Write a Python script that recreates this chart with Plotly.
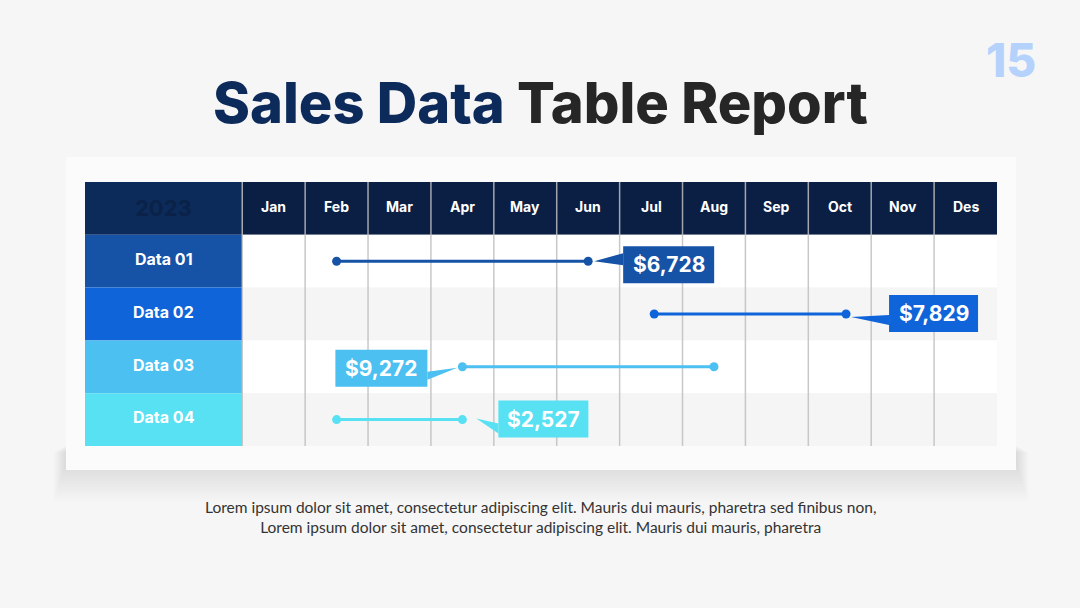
import plotly.graph_objects as go

# ---------------- data ----------------
months = ["Jan", "Feb", "Mar", "Apr", "May", "Jun", "Jul", "Aug", "Sep", "Oct", "Nov", "Des"]
series = ["Data 01", "Data 02", "Data 03", "Data 04"]
start_pos = [1.0, 6.05, 3.0, 1.0]   # month index (Jan = 0)
end_pos = [5.0, 9.1, 7.0, 3.0]
values = [6728, 7829, 9272, 2527]
year_label = "2023"

# ---------------- style ----------------
W, H = 1080, 608
X0PX, X1PX = 85, 997      # table pixel extent
Y0PX, Y1PX = 182, 446
XMIN, XMAX = -3.0, 11.5
YMIN, YMAX = -0.5, 4.5
PXX = (X1PX - X0PX) / (XMAX - XMIN)
PXY = (Y1PX - Y0PX) / (YMAX - YMIN)

colors = ["#1652a6", "#0f64d9", "#4cc0f0", "#58e1f2"]
header_col = "#0b1f45"
year_col = "#0c2a5a"
FONT = "Inter"

# callout geometry in px relative to anchor point:
# (anchor, box x0, x1, y0, y1, tip dx, tip dy, base dx, base dy0, base dy1)
callouts = [
    ("end", 35, 126, -15, 22, 6, 0, 35, -8, 4),
    ("end", 43, 132, -19, 18, 5, 3, 43, 1, 11),
    ("start", -127, -35, -17, 20, -5, 1, -35, 5, 13),
    ("end", 36, 126, -19, 18, 14, -1, 36, 4, 14),
]


def px2x(dx):
    return dx / PXX


def px2y(dy):
    return dy / PXY


fig = go.Figure()
shapes = []
annotations = []

# soft shadow under the card
n_layers = 14
for k in range(n_layers):
    grow = 2 + k * 2.6
    shapes.append(dict(type="rect", xref="paper", yref="paper",
                       x0=(66 - grow * 0.35) / W, x1=(1016 + grow * 0.35) / W,
                       y0=1 - (462 + grow * 1.1) / H, y1=1 - (445 + grow * 0.2) / H,
                       fillcolor="rgba(0,0,0,0.0085)", line=dict(width=0), layer="below"))
shapes.append(dict(type="rect", xref="paper", yref="paper",
                   x0=66 / W, x1=1016 / W, y0=1 - 470 / H, y1=1 - 157 / H,
                   fillcolor="#fbfbfb", line=dict(width=0), layer="below"))

# header
shapes.append(dict(type="rect", xref="x", yref="y", x0=XMIN, x1=-0.5, y0=-0.5, y1=0.5,
                   fillcolor=year_col, line=dict(width=0), layer="below"))
shapes.append(dict(type="rect", xref="x", yref="y", x0=-0.5, x1=XMAX, y0=-0.5, y1=0.5,
                   fillcolor=header_col, line=dict(width=0), layer="below"))
annotations.append(dict(x=-1.75, y=0, xref="x", yref="y", text=f"<b>{year_label}</b>",
                        showarrow=False, font=dict(family=FONT, size=22, color="#0a2248")))
for i, m in enumerate(months):
    annotations.append(dict(x=i, y=-0.03, xref="x", yref="y", text=f"<b>{m}</b>", showarrow=False,
                            font=dict(family=FONT, size=14, color="white")))

# rows
for r, name in enumerate(series):
    yr = r + 1
    shapes.append(dict(type="rect", xref="x", yref="y", x0=XMIN, x1=-0.5, y0=yr - 0.5, y1=yr + 0.5,
                       fillcolor=colors[r], line=dict(width=0), layer="below"))
    shapes.append(dict(type="rect", xref="x", yref="y", x0=-0.5, x1=XMAX, y0=yr - 0.5, y1=yr + 0.5,
                       fillcolor="#ffffff" if r % 2 == 0 else "#f5f5f5", line=dict(width=0), layer="below"))
    annotations.append(dict(x=-1.75, y=yr - 0.04, xref="x", yref="y", text=f"<b>{name}</b>", showarrow=False,
                            font=dict(family=FONT, size=16, color="white")))

# vertical grid lines
for i in range(12):
    shapes.append(dict(type="line", xref="x", yref="y", x0=i - 0.5, x1=i - 0.5, y0=YMIN, y1=YMAX,
                       line=dict(color="rgba(190,190,190,0.85)", width=1.5), layer="below"))

# range lines with callouts
for r, name in enumerate(series):
    yr = r + 1
    fig.add_trace(go.Scatter(x=[start_pos[r], end_pos[r]], y=[yr, yr], mode="lines+markers",
                             line=dict(color=colors[r], width=3),
                             marker=dict(size=9, color=colors[r]), showlegend=False, hoverinfo="skip"))
    side, bx0, bx1, by0, by1, tdx, tdy, bdx, bdy0, bdy1 = callouts[r]
    ax = end_pos[r] if side == "end" else start_pos[r]
    ay = yr
    shapes.append(dict(type="rect", xref="x", yref="y",
                       x0=ax + px2x(bx0), x1=ax + px2x(bx1), y0=ay + px2y(by0), y1=ay + px2y(by1),
                       fillcolor=colors[r], line=dict(width=0)))
    tx, ty = ax + px2x(tdx), ay + px2y(tdy)
    p1 = (ax + px2x(bdx), ay + px2y(bdy0))
    p2 = (ax + px2x(bdx), ay + px2y(bdy1))
    shapes.append(dict(type="path", xref="x", yref="y",
                       path=f"M {tx},{ty} L {p1[0]},{p1[1]} L {p2[0]},{p2[1]} Z",
                       fillcolor=colors[r], line=dict(width=0)))
    annotations.append(dict(x=ax + px2x((bx0 + bx1) / 2), y=ay + px2y((by0 + by1) / 2),
                            xref="x", yref="y", text=f"<b>${values[r]:,}</b>", showarrow=False,
                            font=dict(family=FONT, size=21, color="white")))

# title, page number, footer
annotations.append(dict(x=0.5, y=1 - 103 / H, xref="paper", yref="paper", xanchor="center", yanchor="middle",
                        text="<span style='color:#0c2a5a'>Sales Data</span> Table Report",
                        showarrow=False, font=dict(family=FONT, size=56, color="#262626", weight=800)))
annotations.append(dict(x=1011 / W, y=1 - 60 / H, xref="paper", yref="paper", xanchor="center", yanchor="middle",
                        text="15", showarrow=False,
                        font=dict(family=FONT, size=46, color="#b4d2fb", weight=800)))
annotations.append(dict(x=0.5, y=1 - 517 / H, xref="paper", yref="paper", xanchor="center", yanchor="middle",
                        text="Lorem ipsum dolor sit amet, consectetur adipiscing elit. Mauris dui mauris, pharetra sed finibus non,"
                             "<br>Lorem ipsum dolor sit amet, consectetur adipiscing elit. Mauris dui mauris, pharetra",
                        showarrow=False, align="center",
                        font=dict(family="Lato", size=15.5, color="#333333")))

fig.update_layout(
    width=W, height=H, margin=dict(l=0, r=0, t=0, b=0),
    paper_bgcolor="#f6f6f6", plot_bgcolor="rgba(0,0,0,0)",
    xaxis=dict(range=[XMIN, XMAX], domain=[X0PX / W, X1PX / W], visible=False, fixedrange=True),
    yaxis=dict(range=[YMAX, YMIN], domain=[1 - Y1PX / H, 1 - Y0PX / H], visible=False, fixedrange=True),
    shapes=shapes, annotations=annotations, showlegend=False,
)

fig.write_html("out.html")
